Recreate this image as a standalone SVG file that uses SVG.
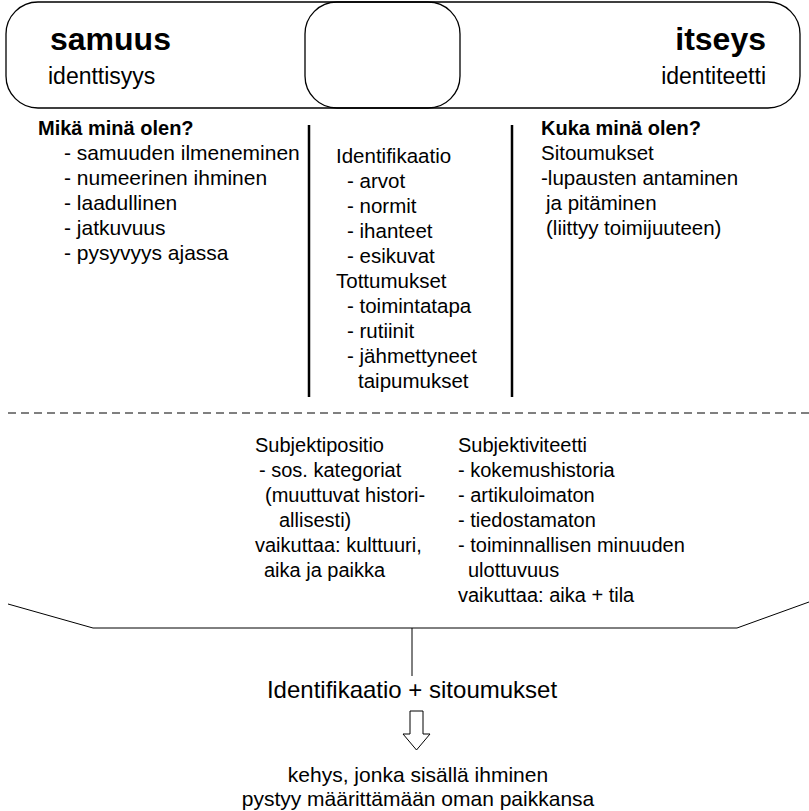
<svg xmlns="http://www.w3.org/2000/svg" width="809" height="811" viewBox="0 0 809 811">
<style>
text{font-family:"Liberation Sans",Arial,sans-serif;fill:#000}
.b{font-size:21px}
.c{font-size:20.5px}
.d{font-size:20px}
.h{font-size:20px;font-weight:bold}
.big{font-size:32px;font-weight:bold}
.sub{font-size:23px}
.mid{font-size:24px}
.shape{fill:none;stroke:#000;stroke-width:1.3}
.vl{stroke:#000;stroke-width:2.5}
.thin{stroke:#000;stroke-width:1;fill:none}
</style>
<rect width="809" height="811" fill="#fff"/>
<g id="samuus">
<rect class="shape" x="6" y="2" width="454" height="106" rx="32" ry="32"/>
<text class="big" x="50" y="50">samuus</text>
<text class="sub" x="48" y="84">identtisyys</text>
</g>
<g id="itseys">
<rect class="shape" x="305" y="2" width="495" height="106" rx="32" ry="32"/>
<text class="big" x="766" y="50" text-anchor="end">itseys</text>
<text class="sub" x="766" y="84" text-anchor="end">identiteetti</text>
</g>
<g id="connectors">
<line class="vl" x1="309" y1="125" x2="309" y2="397"/>
<line class="vl" x1="512" y1="125" x2="512" y2="397"/>
<line class="thin" x1="8" y1="413" x2="809" y2="413" stroke-dasharray="8 5"/>
<polyline class="thin" points="8,604 93,628 737,628 809,602"/>
<line class="thin" x1="412" y1="628" x2="412" y2="676"/>
<path class="thin" d="M410,711 H423 V734 H430 L416.5,750 L403,734 H410 Z"/>
</g>
<g id="left-col">
<text class="h" x="38" y="135">Mikä minä olen?</text>
<text class="b" x="64" y="160">- samuuden ilmeneminen</text>
<text class="b" x="64" y="185">- numeerinen ihminen</text>
<text class="b" x="64" y="210">- laadullinen</text>
<text class="b" x="64" y="235">- jatkuvuus</text>
<text class="b" x="64" y="260">- pysyvyys ajassa</text>
</g>
<g id="mid-col">
<text class="c" x="336" y="163">Identifikaatio</text>
<text class="c" x="347" y="188">- arvot</text>
<text class="c" x="347" y="213">- normit</text>
<text class="c" x="347" y="238">- ihanteet</text>
<text class="c" x="347" y="263">- esikuvat</text>
<text class="c" x="336" y="288">Tottumukset</text>
<text class="c" x="347" y="313">- toimintatapa</text>
<text class="c" x="347" y="338">- rutiinit</text>
<text class="c" x="347" y="363">- jähmettyneet</text>
<text class="c" x="358" y="388">taipumukset</text>
</g>
<g id="right-col">
<text class="h" x="541" y="135">Kuka minä olen?</text>
<text class="c" x="541" y="160">Sitoumukset</text>
<text class="c" x="541" y="185">-lupausten antaminen</text>
<text class="c" x="546" y="210">ja pitäminen</text>
<text class="c" x="546" y="235">(liittyy toimijuuteen)</text>
</g>
<g id="subjektipositio">
<text class="d" x="255" y="452">Subjektipositio</text>
<text class="d" x="259" y="477">- sos. kategoriat</text>
<text class="d" x="265" y="502">(muuttuvat histori-</text>
<text class="d" x="279" y="527">allisesti)</text>
<text class="d" x="255" y="552">vaikuttaa: kulttuuri,</text>
<text class="d" x="264" y="577">aika ja paikka</text>
</g>
<g id="subjektiviteetti">
<text class="d" x="458" y="452">Subjektiviteetti</text>
<text class="d" x="458" y="477">- kokemushistoria</text>
<text class="d" x="458" y="502">- artikuloimaton</text>
<text class="d" x="458" y="527">- tiedostamaton</text>
<text class="d" x="458" y="552">- toiminnallisen minuuden</text>
<text class="d" x="468" y="577">ulottuvuus</text>
<text class="d" x="458" y="602">vaikuttaa: aika + tila</text>
</g>
<g id="summary">
<text class="mid" x="412" y="698" text-anchor="middle">Identifikaatio + sitoumukset</text>
</g>
<g id="result">
<text class="b" x="418" y="782" text-anchor="middle">kehys, jonka sisällä ihminen</text>
<text class="b" x="418" y="806" text-anchor="middle">pystyy määrittämään oman paikkansa</text>
</g>
</svg>
